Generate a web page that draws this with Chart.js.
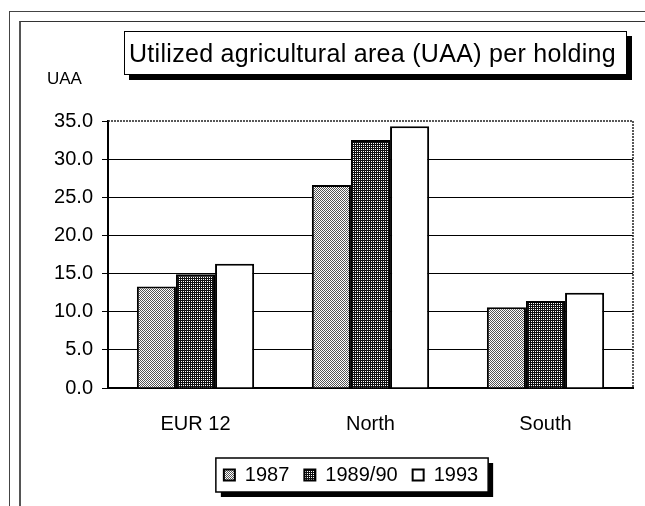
<!DOCTYPE html>
<html>
<head>
<meta charset="utf-8">
<script src="https://cdn.jsdelivr.net/npm/chart.js@4/dist/chart.umd.min.js"></script>
<style>
  html, body { margin: 0; padding: 0; background: #fff; }
  #wrap { position: relative; width: 645px; height: 506px; overflow: hidden; font-family: "Liberation Sans", Arial, sans-serif; }
  #frameOuter { position: absolute; left: 9px; top: 11px; width: 700px; height: 600px; border-left: 1px solid #444; border-top: 1px solid #444; }
  #frameInner { position: absolute; left: 19px; top: 21px; width: 700px; height: 600px; border-left: 2px solid #555; border-top: 1px solid #333; }
  #chartTitle { position: absolute; left: 124px; top: 31px; width: 497px; height: 42px; border: 1.5px solid #000; background: #fff;
    box-shadow: 5px 5px 0 #000; font-size: 25px; line-height: 42px; padding-left: 4px; white-space: nowrap; letter-spacing: 0.3px; box-sizing: content-box; }
  #unitLabel { position: absolute; left: 47px; top: 69px; font-size: 17px; }
  canvas { position: absolute; left: 0; top: 0; }
</style>
</head>
<body>
<div id="wrap">
  <div id="frameOuter"></div>
  <div id="frameInner"></div>
  <canvas id="uaaChart" width="645" height="506"></canvas>
  <div id="chartTitle">Utilized agricultural area (UAA) per holding</div>
  <div id="unitLabel">UAA</div>
</div>
<script>
const regions = ['EUR 12', 'North', 'South'];
const seriesNames = ['1987', '1989/90', '1993'];
const uaa1987 = [13.3, 26.6, 10.6];
const uaa1989 = [14.9, 32.5, 11.4];
const uaa1993 = [16.3, 34.3, 12.5];
const yTicks = [0, 5, 10, 15, 20, 25, 30, 35];

function makePattern(bg, fg, cells, size) {
    const c = document.createElement('canvas');
    c.width = size; c.height = size;
    const g = c.getContext('2d');
    g.fillStyle = bg;
    g.fillRect(0, 0, size, size);
    g.fillStyle = fg;
    cells.forEach(([x, y]) => g.fillRect(x, y, 1, 1));
    return g.createPattern(c, 'repeat');
}

const ctx = document.getElementById('uaaChart').getContext('2d');
const lightDots = makePattern('#fff', '#555', [[0, 0], [1, 1]], 2);
const darkDots = makePattern('#111', '#fff', [[1, 1]], 2);

// dotted border on top/right of plot, legend frame with shadow
const framePlugin = {
    id: 'frames',
    afterLayout(chart) {
        // legend sits a bit left of the plot centre in the original
        chart.legend.left = 69;
        chart.legend.right = 633;
    },
    beforeDatasetsDraw(chart) {
        const { ctx, chartArea: a } = chart;
        ctx.save();
        ctx.strokeStyle = '#222';
        ctx.lineWidth = 1.5;
        ctx.setLineDash([2, 1]);
        ctx.beginPath();
        ctx.moveTo(a.left, a.top);
        ctx.lineTo(a.right, a.top);
        ctx.lineTo(a.right, a.bottom);
        ctx.stroke();
        ctx.restore();
    },
    beforeDraw(chart) {
        const boxes = chart.legend && chart.legend.legendHitBoxes;
        if (!boxes || !boxes.length) return;
        const first = boxes[0], last = boxes[boxes.length - 1];
        const left = first.left - 8;
        const right = last.left + last.width + 10;
        const top = first.top - 7;
        const bottom = first.top + first.height + 7;
        const { ctx } = chart;
        ctx.save();
        ctx.fillStyle = '#000';
        ctx.fillRect(left + 5, top + 5, right - left, bottom - top);
        ctx.fillStyle = '#fff';
        ctx.fillRect(left, top, right - left, bottom - top);
        ctx.strokeStyle = '#000';
        ctx.lineWidth = 1.5;
        ctx.strokeRect(left, top, right - left, bottom - top);
        ctx.restore();
    }
};

new Chart(ctx, {
    type: 'bar',
    data: {
        labels: regions,
        datasets: [{
            label: seriesNames[0],
            data: uaa1987,
            backgroundColor: lightDots,
            borderColor: '#000',
            borderWidth: 2
        }, {
            label: seriesNames[1],
            data: uaa1989,
            backgroundColor: darkDots,
            borderColor: '#000',
            borderWidth: 2
        }, {
            label: seriesNames[2],
            data: uaa1993,
            backgroundColor: '#fff',
            borderColor: '#000',
            borderWidth: 2
        }]
    },
    options: {
        responsive: false,
        animation: false,
        layout: { padding: { left: 8, right: 12, top: 121, bottom: 11 } },
        datasets: { bar: { categoryPercentage: 0.67, barPercentage: 1.0 } },
        scales: {
            x: {
                grid: { display: false },
                border: { display: true, color: '#000', width: 2 },
                ticks: { color: '#000', padding: 16, font: { family: 'Liberation Sans', size: 20 } },
                afterFit: (scale) => { scale.height = 62; }
            },
            y: {
                min: 0,
                max: 35,
                afterBuildTicks: (scale) => { scale.ticks = yTicks.map(v => ({ value: v })); },
                grid: {
                    color: (c) => (c.tick && c.tick.value === 35) ? 'rgba(0,0,0,0)' : '#000',
                    tickColor: '#000',
                    lineWidth: 1,
                    tickLength: 6
                },
                border: { display: true, color: '#000', width: 2 },
                ticks: {
                    color: '#000',
                    padding: 9,
                    font: { family: 'Liberation Sans', size: 20 },
                    callback: (v) => Number(v).toFixed(1)
                },
                afterFit: (scale) => { scale.width = 100; }
            }
        },
        plugins: {
            legend: {
                position: 'bottom',
                labels: {
                    color: '#000',
                    boxWidth: 11,
                    boxHeight: 11,
                    padding: 15,
                    font: { family: 'Liberation Sans', size: 20 }
                }
            },
            tooltip: { enabled: false }
        }
    },
    plugins: [framePlugin]
});
</script>
</body>
</html>
